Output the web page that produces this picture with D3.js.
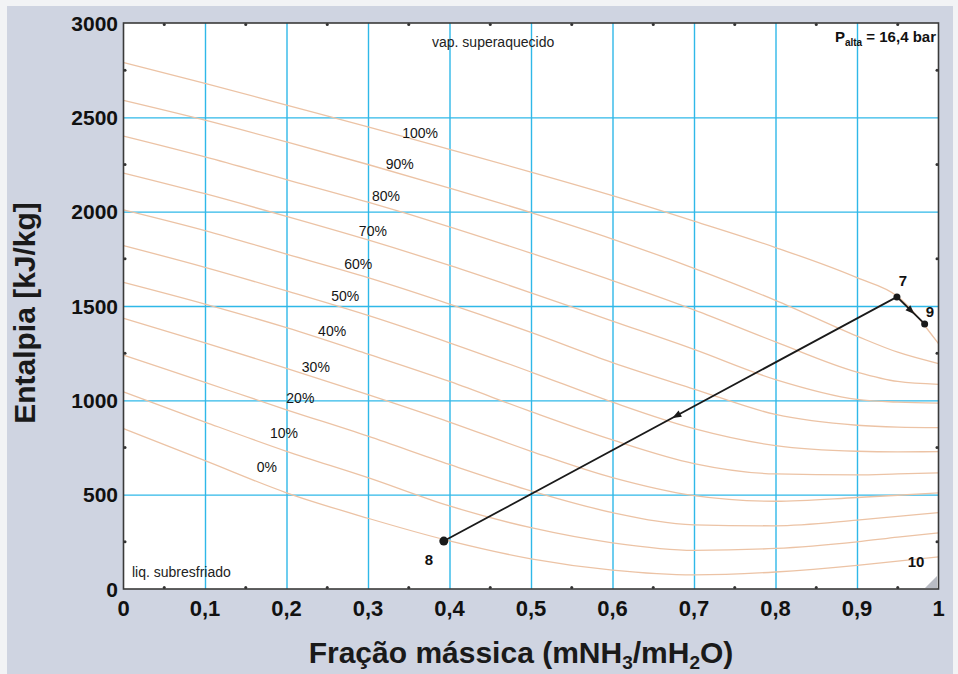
<!DOCTYPE html>
<html>
<head>
<meta charset="utf-8">
<script src="https://cdnjs.cloudflare.com/ajax/libs/d3/7.8.5/d3.min.js"></script>
<style>
  body { margin: 0; background: #eceef2; }
  svg { display: block; }
</style>
</head>
<body>
<div id="vis"></div>
<script>
// frame
const FRAME_WIDTH = 958;
const FRAME_HEIGHT = 674;
const PLOT = {left: 123.5, right: 938.5, top: 23, bottom: 589};

// ---- data ----
// mass fraction grid where the quality lines were read
const X_GRID = [0, 0.1, 0.2, 0.3, 0.4, 0.5, 0.6, 0.7, 0.8, 0.9, 0.95, 1.0];

// quality labels (0% .. 100%)
const QUALITY_LABELS = ["0%", "10%", "20%", "30%", "40%", "50%", "60%", "70%", "80%", "90%", "100%"];

// enthalpy [kJ/kg] along each quality line, at X_GRID
const H_Q0   = [850, 680, 510, 375, 255, 160, 100, 75, 90, 125, 148, 170];
const H_Q10  = [1045, 885, 730, 590, 440, 325, 245, 205, 215, 250, 275, 298];
const H_Q20  = [1240, 1095, 950, 810, 660, 520, 405, 340, 335, 365, 385, 405];
const H_Q30  = [1435, 1305, 1170, 1030, 885, 730, 590, 495, 465, 485, 497, 510];
const H_Q40  = [1625, 1510, 1385, 1245, 1100, 940, 790, 665, 610, 605, 610, 615];
const H_Q50  = [1820, 1705, 1580, 1450, 1305, 1150, 990, 850, 760, 730, 727, 728];
const H_Q60  = [2010, 1900, 1775, 1650, 1510, 1360, 1200, 1060, 925, 868, 858, 855];
const H_Q70  = [2205, 2095, 1975, 1850, 1715, 1570, 1420, 1270, 1110, 1005, 990, 985];
const H_Q80  = [2400, 2290, 2170, 2050, 1920, 1780, 1635, 1480, 1310, 1150, 1100, 1085];
const H_Q90  = [2590, 2485, 2370, 2250, 2125, 1995, 1855, 1700, 1530, 1340, 1255, 1195];
const H_Q100 = [2790, 2680, 2565, 2450, 2330, 2210, 2085, 1950, 1810, 1650, 1550, 1300];
const QUALITY_LINES = [H_Q0, H_Q10, H_Q20, H_Q30, H_Q40, H_Q50, H_Q60, H_Q70, H_Q80, H_Q90, H_Q100];

// where each quality label sits (mass fraction, enthalpy)
const LABEL_X = [0.176, 0.197, 0.217, 0.236, 0.256, 0.272, 0.288, 0.306, 0.322, 0.339, 0.364];
const LABEL_H = [647, 827, 1012, 1177, 1367, 1553, 1723, 1897, 2083, 2253, 2417];

// cycle states
const STATE_IDS = ["8", "7", "9"];
const STATE_X = [0.393, 0.949, 0.983];
const STATE_H = [254, 1548, 1405];

// axis ticks
const X_TICKS = [0, 0.1, 0.2, 0.3, 0.4, 0.5, 0.6, 0.7, 0.8, 0.9, 1];
const X_TICK_LABELS = ["0", "0,1", "0,2", "0,3", "0,4", "0,5", "0,6", "0,7", "0,8", "0,9", "1"];
const Y_TICKS = [0, 500, 1000, 1500, 2000, 2500, 3000];

const SVG = d3.select("#vis")
  .append("svg")
    .attr("width", FRAME_WIDTH)
    .attr("height", FRAME_HEIGHT);

// scanned page background
SVG.append("rect")
    .attr("x", 0).attr("y", 0)
    .attr("width", FRAME_WIDTH).attr("height", FRAME_HEIGHT)
    .attr("fill", "#f2f3f5");
SVG.append("rect")
    .attr("x", 7).attr("y", 6)
    .attr("width", FRAME_WIDTH - 12).attr("height", FRAME_HEIGHT - 6)
    .attr("fill", "#cfd4e1");

const X_SCALE = d3.scaleLinear().domain([0, 1]).range([PLOT.left, PLOT.right]);
const Y_SCALE = d3.scaleLinear().domain([0, 3000]).range([PLOT.bottom, PLOT.top]);

// plot area
SVG.append("rect")
    .attr("x", PLOT.left).attr("y", PLOT.top)
    .attr("width", PLOT.right - PLOT.left)
    .attr("height", PLOT.bottom - PLOT.top)
    .attr("fill", "#ffffff");

// grid
SVG.append("g")
    .attr("transform", "translate(0," + PLOT.bottom + ")")
    .call(d3.axisBottom(X_SCALE).tickValues(X_TICKS.slice(1, -1))
            .tickSize(-(PLOT.bottom - PLOT.top)).tickFormat(""))
    .call(g => g.select(".domain").remove())
    .call(g => g.selectAll("line").attr("stroke", "#2fb8e8").attr("stroke-width", 1.4));

SVG.append("g")
    .attr("transform", "translate(" + PLOT.left + ",0)")
    .call(d3.axisLeft(Y_SCALE).tickValues(Y_TICKS.slice(1, -1))
            .tickSize(-(PLOT.right - PLOT.left)).tickFormat(""))
    .call(g => g.select(".domain").remove())
    .call(g => g.selectAll("line").attr("stroke", "#2fb8e8").attr("stroke-width", 1.4));

// quality lines
const LINE = d3.line()
    .x((d) => X_SCALE(d[0]))
    .y((d) => Y_SCALE(d[1]))
    .curve(d3.curveMonotoneX);

SVG.append("g")
  .selectAll("path")
  .data(QUALITY_LINES)
  .enter()
  .append("path")
    .attr("d", (h) => LINE(X_GRID.map((x, i) => [x, h[i]])))
    .attr("fill", "none")
    .attr("stroke", "#ecc3a5")
    .attr("stroke-width", 1.3);

// quality labels
SVG.append("g")
  .selectAll("text")
  .data(QUALITY_LABELS)
  .enter()
  .append("text")
    .attr("x", (d, i) => X_SCALE(LABEL_X[i]))
    .attr("y", (d, i) => Y_SCALE(LABEL_H[i]) + 5)
    .attr("text-anchor", "middle")
    .attr("font-family", "Liberation Sans, Arial, sans-serif")
    .attr("font-size", "14px")
    .attr("fill", "#151515")
    .text((d) => d);

// frame border
SVG.append("rect")
    .attr("x", PLOT.left).attr("y", PLOT.top)
    .attr("width", PLOT.right - PLOT.left)
    .attr("height", PLOT.bottom - PLOT.top)
    .attr("fill", "none")
    .attr("stroke", "#3a3a3a")
    .attr("stroke-width", 1.6);

// minor tick dots on the frame
const MINOR_X = d3.range(0.05, 1, 0.1);
const MINOR_Y = d3.range(250, 3000, 500);
SVG.append("g").selectAll("circle")
  .data(MINOR_X)
  .enter().append("circle")
    .attr("cx", (d) => X_SCALE(d)).attr("cy", PLOT.bottom - 1.5).attr("r", 1.5).attr("fill", "#333");
SVG.append("g").selectAll("circle")
  .data(MINOR_X)
  .enter().append("circle")
    .attr("cx", (d) => X_SCALE(d)).attr("cy", PLOT.top + 1.5).attr("r", 1.5).attr("fill", "#333");
SVG.append("g").selectAll("circle")
  .data(MINOR_Y)
  .enter().append("circle")
    .attr("cx", PLOT.left + 1.5).attr("cy", (d) => Y_SCALE(d)).attr("r", 1.5).attr("fill", "#333");
SVG.append("g").selectAll("circle")
  .data(MINOR_Y)
  .enter().append("circle")
    .attr("cx", PLOT.right - 1.5).attr("cy", (d) => Y_SCALE(d)).attr("r", 1.5).attr("fill", "#333");

// tick labels
const TICK_FONT = "Liberation Sans, Arial, sans-serif";
SVG.append("g").selectAll("text")
  .data(X_TICKS)
  .enter().append("text")
    .attr("x", (d) => X_SCALE(d))
    .attr("y", 616)
    .attr("text-anchor", "middle")
    .attr("font-family", TICK_FONT)
    .attr("font-weight", "bold")
    .attr("font-size", "22px")
    .attr("fill", "#111")
    .text((d, i) => X_TICK_LABELS[i]);

SVG.append("g").selectAll("text")
  .data(Y_TICKS)
  .enter().append("text")
    .attr("x", 118)
    .attr("y", (d) => Y_SCALE(d) + 7.5)
    .attr("text-anchor", "end")
    .attr("font-family", TICK_FONT)
    .attr("font-weight", "bold")
    .attr("font-size", "21px")
    .attr("fill", "#111")
    .text((d) => d);

// axis titles
const X_TITLE = SVG.append("text")
    .attr("x", 521)
    .attr("y", 663)
    .attr("text-anchor", "middle")
    .attr("font-family", "Liberation Sans, Arial, sans-serif")
    .attr("font-weight", "bold")
    .attr("font-size", "30px")
    .attr("fill", "#1a1a1a");
X_TITLE.append("tspan").text("Fração mássica (mNH");
X_TITLE.append("tspan").attr("font-size", "19px").attr("dy", 6).text("3");
X_TITLE.append("tspan").attr("dy", -6).text("/mH");
X_TITLE.append("tspan").attr("font-size", "19px").attr("dy", 6).text("2");
X_TITLE.append("tspan").attr("dy", -6).text("O)");

SVG.append("text")
    .attr("transform", "translate(35,313) rotate(-90)")
    .attr("text-anchor", "middle")
    .attr("font-family", "Liberation Sans, Arial, sans-serif")
    .attr("font-weight", "bold")
    .attr("font-size", "30px")
    .attr("fill", "#1a1a1a")
    .text("Entalpia [kJ/kg]");

// region notes
SVG.append("text")
    .attr("x", 432).attr("y", 47)
    .attr("font-family", "Liberation Sans, Arial, sans-serif")
    .attr("font-size", "14px").attr("fill", "#222")
    .text("vap. superaquecido");
SVG.append("text")
    .attr("x", 132).attr("y", 577)
    .attr("font-family", "Liberation Sans, Arial, sans-serif")
    .attr("font-size", "14px").attr("fill", "#222")
    .text("liq. subresfriado");

const P_TEXT = SVG.append("text")
    .attr("x", 936).attr("y", 42)
    .attr("text-anchor", "end")
    .attr("font-family", "Liberation Sans, Arial, sans-serif")
    .attr("font-weight", "bold")
    .attr("font-size", "15px").attr("fill", "#111");
P_TEXT.append("tspan").text("P");
P_TEXT.append("tspan").attr("font-size", "10px").attr("dy", 4).text("alta");
P_TEXT.append("tspan").attr("dy", -4).text(" = 16,4 bar");

// cycle path 8 -> 7 -> 9
const STATES = STATE_IDS.map((id, i) => ({id: id, x: STATE_X[i], h: STATE_H[i]}));

SVG.append("path")
    .attr("d", d3.line().x((d) => X_SCALE(d.x)).y((d) => Y_SCALE(d.h))(STATES))
    .attr("fill", "none")
    .attr("stroke", "#1a1a1a")
    .attr("stroke-width", 1.8);

// direction arrows: on 7 -> 8 and 7 -> 9
function arrowAt(from, to, t) {
  const x1 = X_SCALE(from.x), y1 = Y_SCALE(from.h);
  const x2 = X_SCALE(to.x), y2 = Y_SCALE(to.h);
  const ax = x1 + (x2 - x1) * t, ay = y1 + (y2 - y1) * t;
  const ang = Math.atan2(y2 - y1, x2 - x1) * 180 / Math.PI;
  SVG.append("path")
      .attr("d", "M5,0 L-4,-3.5 L-4,3.5 Z")
      .attr("transform", "translate(" + ax + "," + ay + ") rotate(" + ang + ")")
      .attr("fill", "#1a1a1a");
}
arrowAt(STATES[1], STATES[0], 0.486);
arrowAt(STATES[1], STATES[2], 0.5);

SVG.append("g").selectAll("circle")
  .data(STATES)
  .enter().append("circle")
    .attr("cx", (d) => X_SCALE(d.x))
    .attr("cy", (d) => Y_SCALE(d.h))
    .attr("r", (d) => d.id === "8" ? 4.5 : 3.5)
    .attr("fill", "#1a1a1a");

// state numbers
const STATE_LABELS = [
  {t: "8", x: 429, y: 565},
  {t: "7", x: 903, y: 286},
  {t: "9", x: 930, y: 317},
  {t: "10", x: 916, y: 567}
];
SVG.append("g").selectAll("text")
  .data(STATE_LABELS)
  .enter().append("text")
    .attr("x", (d) => d.x).attr("y", (d) => d.y)
    .attr("text-anchor", "middle")
    .attr("font-family", "Liberation Sans, Arial, sans-serif")
    .attr("font-weight", "bold")
    .attr("font-size", "15px")
    .attr("fill", "#111")
    .text((d) => d.t);

// folded corner of the scan
SVG.append("path")
    .attr("d", "M925,588 L937,576 L937,588 Z")
    .attr("fill", "#b9bcc4");
</script>
</body>
</html>
